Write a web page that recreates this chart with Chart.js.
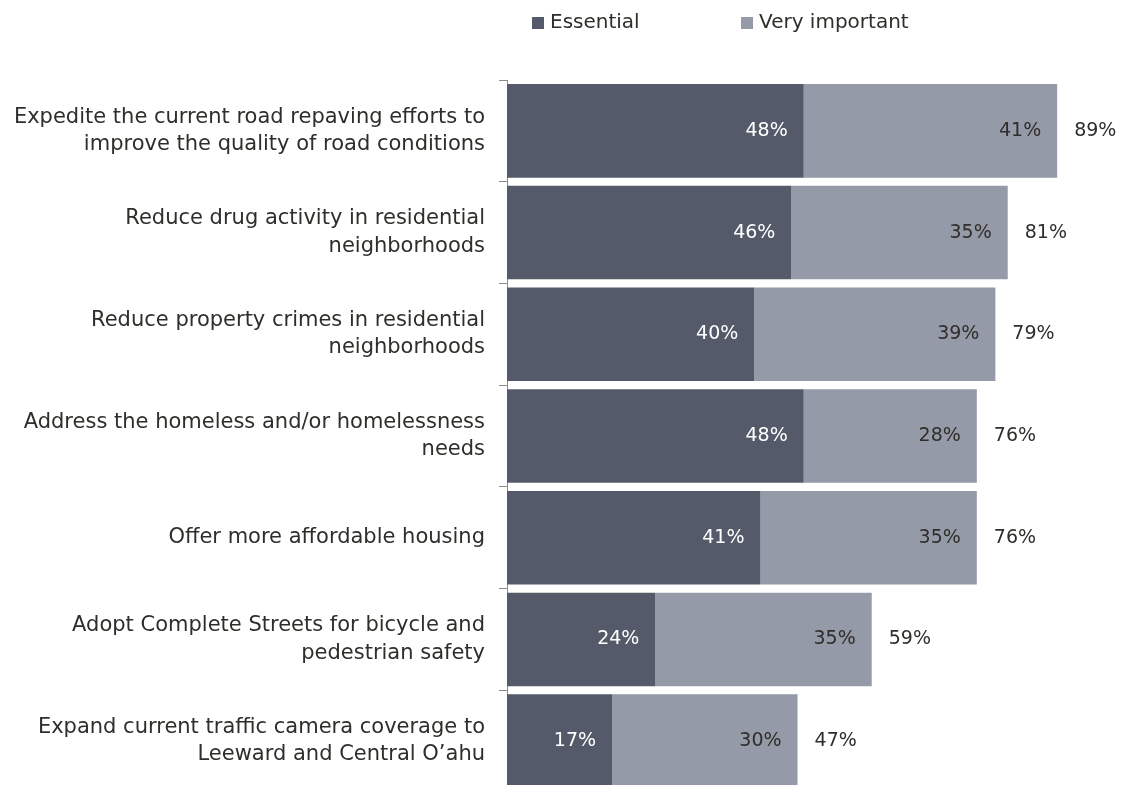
<!DOCTYPE html>
<html>
<head>
<meta charset="utf-8">
<script src="https://cdn.jsdelivr.net/npm/chart.js"></script>
<style>
    html, body { margin: 0; padding: 0; background: #fff; overflow: hidden; }
    canvas { display: block; }
</style>
</head>
<body>
<canvas id="chartPrioridades" width="1121" height="794"></canvas>
<script>
let categorias = [
    ['Expedite the current road repaving efforts to', 'improve the quality of road conditions'],
    ['Reduce drug activity in residential', 'neighborhoods'],
    ['Reduce property crimes in residential', 'neighborhoods'],
    ['Address the homeless and/or homelessness', 'needs'],
    'Offer more affordable housing',
    ['Adopt Complete Streets for bicycle and', 'pedestrian safety'],
    ['Expand current traffic camera coverage to', 'Leeward and Central O\u2019ahu']
];
let essencial = [48, 46, 40, 48, 41, 24, 17];
let muitoImportante = [41, 35, 39, 28, 35, 35, 30];
let totais = [89, 81, 79, 76, 76, 59, 47];

let corEssencial = '#545a6a';
let corMuito = '#959aa8';
let corTexto = '#302e2a';
let fonte = '"DejaVu Sans", Verdana, sans-serif';

// rotulos dentro das barras e total no fim
const rotulos = {
    id: 'rotulos',
    afterDatasetsDraw(chart) {
        let ctx = chart.ctx;
        ctx.save();
        ctx.font = '19px ' + fonte;
        ctx.textBaseline = 'middle';
        chart.data.datasets.forEach((ds, i) => {
            let meta = chart.getDatasetMeta(i);
            meta.data.forEach((bar, j) => {
                ctx.fillStyle = i == 0 ? '#fff' : corTexto;
                ctx.textAlign = 'right';
                ctx.fillText(ds.data[j] + '%', bar.x - 16, bar.y);
            });
        });
        let ultimo = chart.getDatasetMeta(1);
        ultimo.data.forEach((bar, j) => {
            ctx.fillStyle = corTexto;
            ctx.textAlign = 'left';
            ctx.fillText(totais[j] + '%', bar.x + 17, bar.y);
        });
        ctx.restore();
    }
};

// legenda no topo
const legenda = {
    id: 'legenda',
    afterDraw(chart) {
        let ctx = chart.ctx;
        let posX = [532, 741];
        ctx.save();
        ctx.font = '20px ' + fonte;
        ctx.textBaseline = 'middle';
        ctx.textAlign = 'left';
        chart.data.datasets.forEach((ds, i) => {
            ctx.fillStyle = ds.backgroundColor;
            ctx.fillRect(posX[i], 17, 12, 12);
            ctx.fillStyle = corTexto;
            ctx.fillText(ds.label, posX[i] + 18, 23);
        });
        ctx.restore();
    }
};

let context = document.querySelector('#chartPrioridades').getContext('2d');

let config = {
    type: 'bar',
    data: {
        labels: categorias,
        datasets: [{
            label: 'Essential',
            data: essencial,
            backgroundColor: corEssencial,
            barPercentage: 0.92,
            categoryPercentage: 1
        }, {
            label: 'Very important',
            data: muitoImportante,
            backgroundColor: corMuito,
            barPercentage: 0.92,
            categoryPercentage: 1
        }]
    },
    options: {
        indexAxis: 'y',
        responsive: false,
        animation: false,
        layout: {
            padding: { top: 80, bottom: 2, right: 2, left: 0 }
        },
        plugins: {
            legend: { display: false },
            tooltip: { enabled: false }
        },
        scales: {
            x: {
                stacked: true,
                display: false,
                min: 0,
                max: 99
            },
            y: {
                stacked: true,
                afterFit: (scale) => {
                    scale.width = 507;
                    // sem margem extra em cima/embaixo por causa dos rotulos de 2 linhas
                    scale.paddingTop = 0;
                    scale.paddingBottom = 0;
                },
                border: { color: '#8c8c8c', width: 1 },
                grid: {
                    drawOnChartArea: false,
                    tickLength: 8,
                    color: '#8c8c8c'
                },
                ticks: {
                    padding: 14,
                    color: corTexto,
                    font: { family: fonte, size: 21, lineHeight: 1.3 }
                }
            }
        }
    },
    plugins: [rotulos, legenda]
};

let chartPrioridades = new Chart(context, config);
</script>
</body>
</html>
